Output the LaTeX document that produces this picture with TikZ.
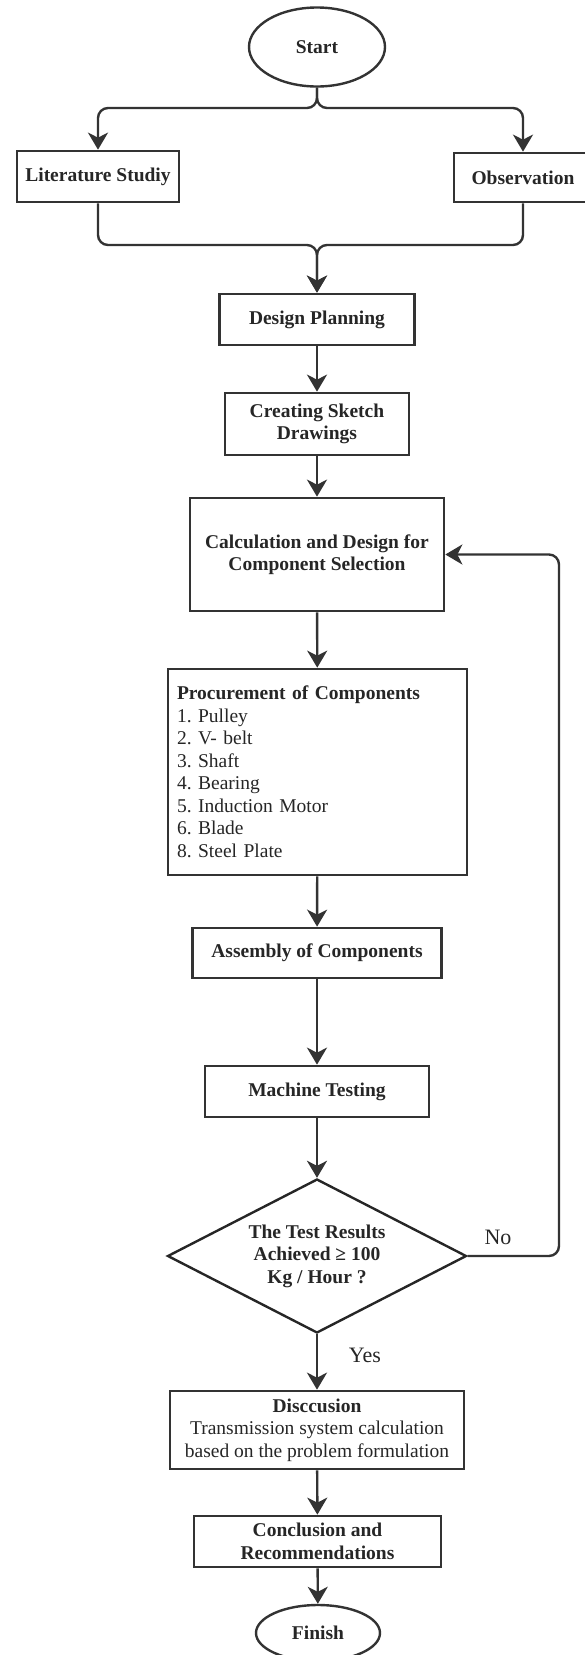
\documentclass[tikz,border=0pt]{standalone}
\usepackage{fontspec}
\setmainfont{Liberation Serif}
\usetikzlibrary{positioning,arrows.meta,shapes.geometric}

\newcommand{\ffsize}{\fontsize{19.5}{22.5}\selectfont}
\frenchspacing

\begin{document}
\begin{tikzpicture}[x=1pt, y=-1pt,
  term/.style={draw=black!80, line width=2.4pt, ellipse, inner sep=0pt, text=black!85, font=\ffsize\bfseries},
  stepbox/.style={draw=black!80, line width=2.7pt, rectangle, inner sep=0pt, align=center, text=black!85, font=\ffsize\bfseries},
  decision/.style={draw=black!85, line width=2.4pt, diamond, aspect=1.94, inner sep=0pt, align=center, text=black!85, font=\ffsize\bfseries},
  flow/.style={draw=black!80, line width=2.4pt, rounded corners=10pt, -{Stealth[length=17pt,width=20pt,inset=5pt]}},
  answer/.style={text=black!85, font=\fontsize{22}{24}\selectfont}]
\useasboundingbox (0,0) rectangle (584,1655);
\node[term, minimum width=136, minimum height=79] (start) at (317,47) {Start};
\node[stepbox, minimum width=162, minimum height=51] (lit) at (98,176.5) {Literature Studiy};
\node[stepbox, minimum width=138, minimum height=49] (obs) at (523,177.5) {Observation};
\node[stepbox, minimum width=195, minimum height=51] (plan) at (317,319.5) {Design Planning};
\node[stepbox, minimum width=184, minimum height=62] (sketch) at (317,424) {Creating Sketch\\Drawings};
\node[stepbox, minimum width=254, minimum height=113] (calc) at (317,554.5) {Calculation and Design for\\Component Selection};
\node[stepbox, minimum width=299, minimum height=206, align=left, text width=281, font=\ffsize] (proc) at (317.5,772)
  {\textbf{Procurement of Components}\\1. Pulley\\2. V- belt\\3. Shaft\\4. Bearing\\5. Induction Motor\\6. Blade\\8. Steel Plate};
\node[stepbox, minimum width=249, minimum height=50] (assy) at (317,953) {Assembly of Components};
\node[stepbox, minimum width=224, minimum height=51] (test) at (317,1091.5) {Machine Testing};
\node[decision, minimum width=299, minimum height=154] (check) at (317,1256) {The Test Results\\Achieved ≥ 100\\Kg / Hour ?};
\node[stepbox, minimum width=294, minimum height=78, font=\ffsize] (disc) at (317,1430)
  {\textbf{Disccusion}\\Transmission system calculation\\based on the problem formulation};
\node[stepbox, minimum width=247, minimum height=51] (concl) at (317.5,1541.5) {Conclusion and\\Recommendations};
\node[term, minimum width=124, minimum height=56] (finish) at (318,1633) {Finish};
\node[answer] (no) at (498,1237) {No};
\node[answer] (yes) at (365,1355) {Yes};

\coordinate (split) at (317,108);
\coordinate (merge) at (317,245);
\coordinate (loopb) at (559,1256);
\coordinate (loopt) at (559,554.5);

\draw[flow] (start.south) -- (split) -| (lit.north);
\draw[flow] (start.south) -- (split) -| (obs.north);
\draw[flow] (lit.south) |- (merge) -- (plan.north);
\draw[flow] (obs.south) |- (merge) -- (plan.north);
\draw[flow] (plan) -- (sketch);
\draw[flow] (sketch) -- (calc);
\draw[flow] (calc) -- (proc);
\draw[flow] (proc) -- (assy);
\draw[flow] (assy) -- (test);
\draw[flow] (test) -- (check);
\draw[flow] (check) -- (disc);
\draw[flow] (disc) -- (concl);
\draw[flow] (concl) -- (finish);
\draw[flow] (check.east) -- (loopb) -- (loopt) -- (calc.east);
\end{tikzpicture}
\end{document}
